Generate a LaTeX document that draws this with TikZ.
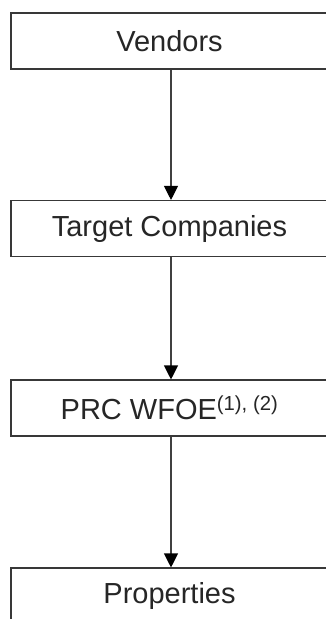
\documentclass[tikz,border=0pt]{standalone}
\usepackage{fontspec}
\setmainfont{Liberation Sans}
\usetikzlibrary{arrows.meta}
\begin{document}
\begin{tikzpicture}[x=1pt,y=-1pt,
  boxnode/.style={draw=black!78, line width=1.1pt, fill=white, minimum width=317pt, minimum height=56pt, inner sep=0pt, text=black!85, font=\fontsize{29}{32}\selectfont},
  arr/.style={draw=black!75, line width=1.1pt, -{Triangle[width=14pt,length=14pt,fill=black,color=black]}}]
\useasboundingbox (0,0) rectangle (326,619);
\clip (0,0) rectangle (326,619);
\node[boxnode] (v) at (169.5,41) {Vendors};
\node[boxnode] (t) at (169.5,228.5) {Target Companies};
\node[boxnode] (w) at (169.5,408) {PRC WFOE\textsuperscript{(1), (2)}};
\node[boxnode] (p) at (169.5,596) {Properties};
\draw[arr] ([xshift=1.5pt]v.south) -- ([xshift=1.5pt]t.north);
\draw[arr] ([xshift=1.5pt]t.south) -- ([xshift=1.5pt]w.north);
\draw[arr] ([xshift=1.5pt]w.south) -- ([xshift=1.5pt]p.north);
\end{tikzpicture}
\end{document}
